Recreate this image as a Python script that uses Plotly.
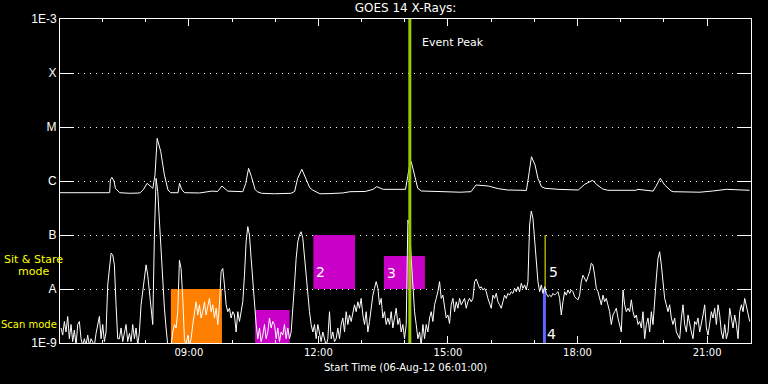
import plotly.graph_objects as go
import pandas as pd

DAY = "2012-08-06 "

# ---- GOES 14 0.5-4 A channel (nW/m^2), regular cadence ----
short_start = "2012-08-06 06:02:26"
short_cadence_s = 139
short_nW = [
    1.9,1.4,2.5,1.6,3.1,1.2,2.2,1.06,1.74,0.9,2.2,2.5,1.2,0.9,1.2,0.9,1.4,0.9,1.2,1.06,
    0.9,1.5,2.2,3.1,1.2,2.2,1.06,1.6,11.9,28,46,43,28,5.1,1.2,1.2,1.9,1.06,1.6,2.2,
    1.06,1.5,1.06,2.2,1.2,1.9,0.9,1.6,5.1,8.9,19.5,28,18,8.9,3.8,2.2,100,1120,634,177,
    37,11.9,4.4,1.9,0.9,0.9,0.9,1.6,2.2,1.9,3.8,34,24,6.7,1.2,0.9,1.4,0.9,1.2,2.2,
    3.8,5.8,3.3,5.1,2.9,3.8,5.8,3.3,4.7,6.7,3.8,5.1,2.9,4.4,2.2,5.1,21,24,11.9,5.1,
    3.8,4.4,2.9,3.8,
    3.3,1.6,3.8,2.5,3.8,5.8,18,75,143,100,37,13.7,6.7,2.2,1.2,1.9,1.06,1.4,2.2,1.2,
    1.6,2.9,1.9,2.5,2.2,1.2,1.9,1.06,1.6,1.4,2.2,1.2,1.9,1.2,1.6,3.8,11.9,37,75,100,
    115,87,37,18,8.9,3.8,2.2,1.6,2.2,1.2,2.2,1.4,1.06,1.6,1.2,0.9,1.2,3.8,1.2,1.6,
    1.06,1.2,1.9,1.2,2.2,2.9,1.6,3.8,2.2,3.3,2.5,3.8,5.1,3.8,5.8,4.4,6.7,3.3,2.2,3.8,
    1.6,2.5,5.1,7.7,10.3,13.7,10.3,5.1,6.7,2.9,3.8,2.2,2.9,2.2,3.8,1.9,2.9,4.4,2.2,2.9,
    1.6,2.2,1.2,2.2,
    190,153,37,8.9,3.8,2.2,1.2,1.6,0.9,2.2,1.2,2.2,1.6,2.9,3.8,2.5,5.1,6.7,8.9,13.7,
    6.7,7.7,5.1,2.9,3.3,2.3,5.1,6.7,3.8,5.8,4.4,6.7,5.1,5.8,6.7,4.4,5.8,6.7,5.8,6.7,
    13.7,15.3,11.9,10.3,11,9.6,10.3,8.9,6.7,5.1,4.4,7.7,6.7,8.3,5.8,5.1,4.4,5.8,7.7,6.7,
    8.3,7.7,8.9,8.3,10.3,8.9,11,8.9,12.7,10.3,11.9,9.6,13.7,153,278,204,75,32,13.7,8.9,
    11.9,8.3,11,8.3,7.2,7.7,7.2,8.3,7.7,8.3,8.9,6.7,3.3,5.8,8.9,7.7,9.6,8.3,9.6,8.9,
    7.2,6.7,6.3,7.7,13.7,
    18,16,13.7,16.9,21,30,28,18,10.3,8.9,6.7,5.1,7.7,5.8,6.7,5.1,3.8,2.2,3.3,3.8,
    4.4,2.9,2.2,1.6,9.6,5.1,3.8,4.4,3.8,6.3,3.8,2.9,3.3,2.2,2.5,1.9,3.8,1.2,2.2,2.9,
    1.6,3.8,2.2,6.7,16,37,49,28,13.7,6.7,5.1,3.8,5.1,2.9,2.2,2.9,1.6,1.4,1.2,2.9,
    5.1,2.2,1.6,3.3,2.2,1.6,1.2,2.5,2.2,2.9,1.6,2.2,3.3,5.1,1.9,1.4,2.5,3.8,2.9,4.4,
    2.2,5.1,3.3,1.6,1.2,2.2,1.2,1.6,4.4,2.9,1.9,3.3,2.2,1.2,3.8,5.1,3.8,6.7,4.7,3.3,
    2.5,
]

# ---- GOES 14 1-8 A channel (nW/m^2) ----
long_time = ["06:01","06:21","06:42","06:56","07:10","07:11","07:13","07:16","07:18","07:24",
             "07:38","07:52","07:57","08:02","08:06","08:10","08:13","08:16","08:21","08:26",
             "08:31","08:35","08:45","08:47","08:50","08:54","09:15","09:22","09:32","09:40",
             "09:46","09:54","10:05","10:15","10:19","10:23","10:27","10:32","10:35","10:41",
             "10:59","11:22","11:27","11:31","11:37","11:43","11:48","11:52","12:02","12:16",
             "12:34","12:44","13:05","13:16","13:21","13:30","13:46","14:01","14:04","14:06",
             "14:09","14:14","14:18","14:23","14:49","15:17","15:32","15:39","15:56","16:10",
             "16:23","16:49","16:53","16:56","17:01","17:05","17:10","17:15","17:33","17:47",
             "18:01","18:10","18:21","18:27","18:35","18:42","18:59","19:21","19:24","19:45",
             "19:49","19:55","20:01","20:10","20:13","20:29","20:50","21:08","21:27","21:39",
             "21:59"]
long_nW = [607,607,600,592,607,1045,1172,1000,731,607,
           592,600,700,906,800,731,1300,6166,3491,1300,
           681,607,607,906,700,607,600,620,650,640,
           807,650,634,634,900,1718,1200,700,634,592,
           580,592,640,1100,1648,1100,750,681,580,585,
           600,634,640,701,784,701,700,701,1200,1718,
           2275,1292,732,653,634,620,634,843,807,720,
           681,670,1500,2818,1977,1120,784,732,701,681,
           681,868,1030,850,711,673,673,673,700,650,
           800,1122,843,653,634,620,620,653,701,690,
           673]

# ---- observation boxes ----
box_start = ["08:35", "10:32", "11:53", "13:31"]
box_end   = ["09:46", "11:20", "12:51", "14:28"]
box_low   = [1e-9, 1e-9, 1e-8, 1e-8]
box_high  = [1e-8, 4.1e-9, 1e-7, 4.1e-8]
box_color = ["#ff8000", "#c800c8", "#c800c8", "#c800c8"]

mark_time = ["17:14", "17:15"]
mark_low  = [1e-9, 1e-8]
mark_high = [1e-8, 1e-7]
mark_color = ["#6464ff", "#ffff00"]
mark_width = [3, 1]

num_labels = ["2", "3", "4", "5"]
num_time   = ["11:54", "13:32", "17:15", "17:17"]
num_logy   = [-7.685, -7.698, -8.824, -7.68]

event_time = "14:07"

ytick_vals = [1e-9, 1e-8, 1e-7, 1e-6, 1e-5, 1e-4, 1e-3]
ytick_text = ["1E-9", "A", "B", "C", "M", "X", "1E-3"]

FONT = "DejaVu Sans"

fig = go.Figure()

for s, e, lo, hi, c in zip(box_start, box_end, box_low, box_high, box_color):
    fig.add_trace(go.Scatter(
        x=[DAY + s, DAY + e, DAY + e, DAY + s, DAY + s],
        y=[lo, lo, hi, hi, lo], mode="lines", fill="toself",
        fillcolor=c, line=dict(width=0, color=c), hoverinfo="skip", showlegend=False))

for t, lo, hi, c, w in zip(mark_time, mark_low, mark_high, mark_color, mark_width):
    fig.add_trace(go.Scatter(x=[DAY + t, DAY + t], y=[lo, hi], mode="lines",
                             line=dict(color=c, width=w), showlegend=False))

short_t = pd.date_range(short_start, periods=len(short_nW), freq=f"{short_cadence_s}s")
fig.add_trace(go.Scatter(x=short_t, y=[v * 1e-9 for v in short_nW], mode="lines",
                         line=dict(color="white", width=1), showlegend=False))
fig.add_trace(go.Scatter(x=[DAY + t for t in long_time], y=[v * 1e-9 for v in long_nW],
                         mode="lines", line=dict(color="white", width=1), showlegend=False))

fig.add_trace(go.Scatter(x=[DAY + event_time, DAY + event_time], y=[1e-10, 1e-2],
                         mode="lines", line=dict(color="#99cc00", width=3), showlegend=False))

ann = []
for txt, t, ly in zip(num_labels, num_time, num_logy):
    ann.append(dict(x=DAY + t, y=ly, xref="x", yref="y", text=txt, showarrow=False,
                    xanchor="left", yanchor="middle",
                    font=dict(family=FONT, size=14, color="white")))
ann.append(dict(x=DAY + "14:21", y=0.926, xref="x", yref="paper", text="Event Peak",
                showarrow=False, xanchor="left", yanchor="middle",
                font=dict(family=FONT, size=11, color="white")))
ann.append(dict(x=-0.038, y=0.259, xref="paper", yref="paper", text="Sit & Stare",
                showarrow=False, xanchor="center", yanchor="middle",
                font=dict(family=FONT, size=11, color="#ffff00")))
ann.append(dict(x=-0.038, y=0.222, xref="paper", yref="paper", text="mode",
                showarrow=False, xanchor="center", yanchor="middle",
                font=dict(family=FONT, size=11, color="#ffff00")))
ann.append(dict(x=-0.045, y=0.0586, xref="paper", yref="paper", text="Scan mode",
                showarrow=False, xanchor="center", yanchor="middle",
                font=dict(family=FONT, size=10, color="#ffff00")))
ann.append(dict(x=0.5, y=-0.077, xref="paper", yref="paper",
                text="Start Time (06-Aug-12 06:01:00)", showarrow=False,
                xanchor="center", yanchor="middle",
                font=dict(family=FONT, size=10, color="white")))

fig.update_layout(
    width=768, height=384,
    margin=dict(l=60, r=17, t=19, b=41, autoexpand=False),
    paper_bgcolor="black", plot_bgcolor="black",
    title=dict(text="GOES 14 X-Rays:", x=0.5, xref="paper", y=1 - 8 / 384,
               yref="container", xanchor="center", yanchor="middle",
               font=dict(family=FONT, size=12, color="white")),
    annotations=ann,
    showlegend=False,
    hovermode=False,
    xaxis=dict(
        type="date", range=[DAY + "06:01", DAY + "22:01"],
        tick0=DAY + "00:00", dtick=3 * 3600 * 1000, tickformat="%H:%M",
        ticks="inside", ticklen=7, tickcolor="white", tickwidth=1,
        minor=dict(dtick=3600 * 1000, ticks="inside", ticklen=3, tickcolor="white", showgrid=False),
        showgrid=False, zeroline=False,
        showline=True, linecolor="white", linewidth=1, mirror="allticks",
        tickfont=dict(family=FONT, size=10, color="white"),
    ),
    yaxis=dict(
        type="log", range=[-9, -3],
        tickmode="array", tickvals=ytick_vals, ticktext=ytick_text,
        ticks="inside", ticklen=14, tickcolor="white", tickwidth=1,
        showgrid=True, gridcolor="white", gridwidth=1, griddash="1px,5px",
        zeroline=False,
        showline=True, linecolor="white", linewidth=1, mirror="allticks",
        tickfont=dict(family="Liberation Sans", size=12, color="#ffffff"),
    ),
)

fig.write_html("out.html", config={"displayModeBar": False},
               post_script="document.body.style.margin='0';")
